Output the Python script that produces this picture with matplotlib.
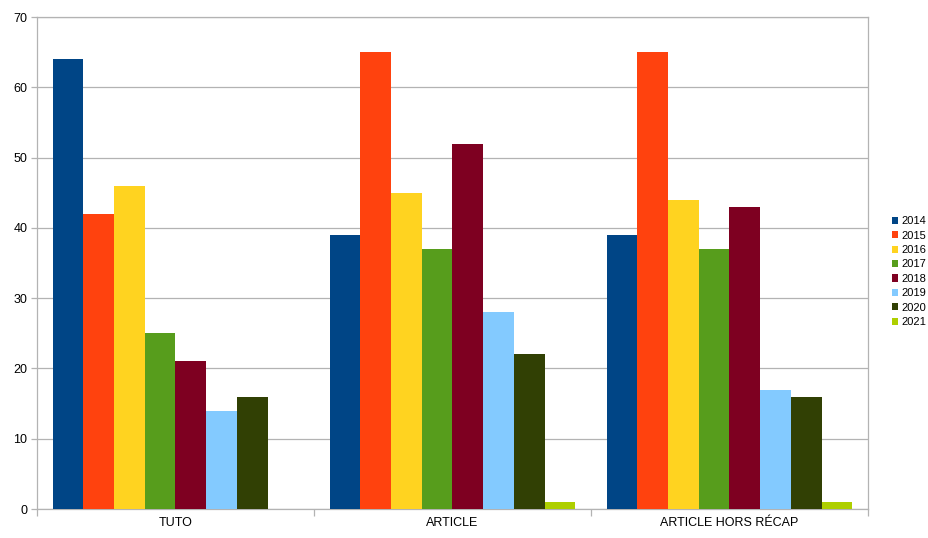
import numpy as np
import matplotlib.pyplot as plt

plt.rcParams['font.family'] = ['Liberation Sans', 'DejaVu Sans']

categories = ["TUTO", "ARTICLE", "ARTICLE HORS RÉCAP"]
years = ["2014", "2015", "2016", "2017", "2018", "2019", "2020", "2021"]
colors = ["#004586", "#ff420e", "#ffd320", "#579d1c", "#7e0021", "#83caff", "#314004", "#aecf00"]

# values per year, one entry per category
v2014 = [64, 39, 39]
v2015 = [42, 65, 65]
v2016 = [46, 45, 44]
v2017 = [25, 37, 37]
v2018 = [21, 52, 43]
v2019 = [14, 28, 17]
v2020 = [16, 22, 16]
v2021 = [0, 1, 1]
series = [v2014, v2015, v2016, v2017, v2018, v2019, v2020, v2021]

fig = plt.figure(figsize=(9.29, 5.38), dpi=100)
ax = fig.add_axes([37 / 929, 1 - 509 / 538, (868 - 37) / 929, (509 - 17) / 538])

x = np.arange(len(categories))
w = 0.111
start = -w * len(series) / 2
for i, vals in enumerate(series):
    ax.bar(x + start + w * i, vals, width=w, align='edge', color=colors[i],
           label=years[i], zorder=3)

ax.set_xlim(-0.5, 2.5)
ax.set_ylim(0, 70)
ax.set_yticks(range(0, 71, 10))
ax.yaxis.grid(True, color="#b3b3b3", linewidth=0.9, zorder=0)

ax.set_xticks(x)
ax.set_xticklabels(categories)
ax.tick_params(axis='x', length=0, pad=6, labelsize=9)
ax.set_xticks([-0.5, 0.5, 1.5, 2.5], minor=True)
ax.tick_params(axis='x', which='minor', length=5, color="#b3b3b3", width=0.9)
ax.tick_params(axis='y', length=4, color="#b3b3b3", width=0.9, labelsize=9, pad=3)

for s in ax.spines.values():
    s.set_color("#b3b3b3")
    s.set_linewidth(0.9)

ax.legend(loc='center left', bbox_to_anchor=(886 / 929, 0.495), bbox_transform=fig.transFigure,
          frameon=False, fontsize=8, handlelength=0.6, handleheight=0.6,
          handletextpad=0.3, labelspacing=0.4, borderpad=0)

fig.savefig("out.png", dpi=100)
